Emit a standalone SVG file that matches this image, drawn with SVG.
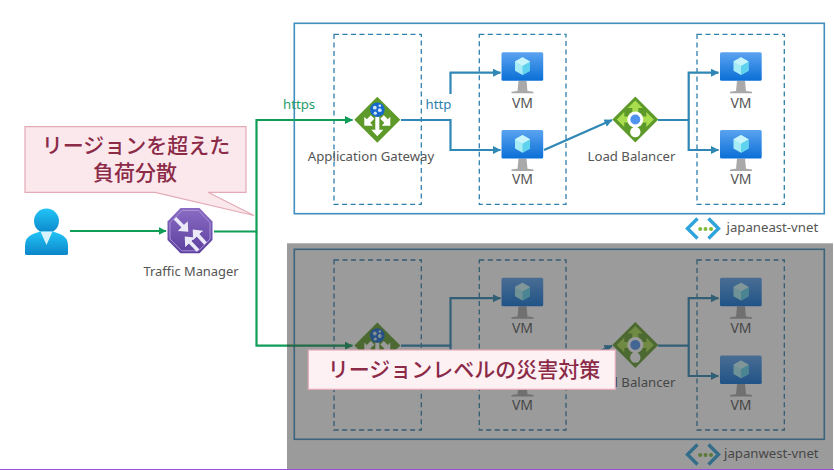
<svg xmlns="http://www.w3.org/2000/svg" width="834" height="470" viewBox="0 0 834 470">
<style>
text{font-family:"Noto Sans","Open Sans","Liberation Sans",sans-serif;fill:#555}
.m{text-anchor:middle}
.vnet{fill:none;stroke:#3f8fc0;stroke-width:1.6}
.sub{fill:none;stroke:#2f7fae;stroke-width:1.3;stroke-dasharray:5 3.5}
.lbl{font-size:13.2px}
.vm{font-size:14px}
.g{fill:none;stroke:#0f9d58;stroke-width:2.2}
.b{fill:none;stroke:#2e87b5;stroke-width:2.2}
.jp{font-family:"Noto Sans CJK JP","Noto Sans",sans-serif;font-weight:500;font-size:21px;fill:#8c2b48;text-anchor:middle}
.call{fill:#fbe8ec;stroke:#e3aab7;stroke-width:1.2}
.ta{fill:none;stroke:#ebe8f7;stroke-width:3.6}
</style>
<defs>
<linearGradient id="vmg" x1="0" y1="0" x2="0" y2="1"><stop offset="0" stop-color="#5ba3f0"/><stop offset="1" stop-color="#0a6fd6"/></linearGradient>
<linearGradient id="usr" x1="0" y1="0" x2="0" y2="1"><stop offset="0" stop-color="#22c4f7"/><stop offset="1" stop-color="#0c86c9"/></linearGradient>
<linearGradient id="tm" x1="0" y1="0" x2="0" y2="1"><stop offset="0" stop-color="#8a6cc4"/><stop offset="1" stop-color="#5c3f9e"/></linearGradient>
<marker id="ag" markerUnits="userSpaceOnUse" markerWidth="9" markerHeight="9" refX="7.5" refY="4" orient="auto"><path d="M0 0L8 4L0 8Z" fill="#0f9d58"/></marker>
<marker id="ab" markerUnits="userSpaceOnUse" markerWidth="9" markerHeight="9" refX="7.5" refY="4" orient="auto"><path d="M0 0L8 4L0 8Z" fill="#2e87b5"/></marker>
<marker id="at" markerUnits="userSpaceOnUse" markerWidth="12" markerHeight="14" refX="4" refY="7" orient="auto"><path d="M0 0L8 7L0 14Z" fill="#ebe8f7"/></marker>
<g id="vmi">
<path d="M-11 39.500q11-2 22 0L11 41H-11ZM-4 28.400H4L5 39H-5Z" fill="#a9a9a9"/>
<rect x="-21" y="0" width="41.700" height="28.400" rx="1.500" fill="url(#vmg)"/>
<path d="M0 5L7.500 9.200V18.500L0 22.800L-7.500 18.500V9.200Z" fill="#a6ecf7"/>
<path d="M0 13.500L7.500 9.200V18.500L0 22.800Z" fill="#5fd3ee"/>
<path d="M0 13.500L-7.500 9.200L0 5L7.500 9.200Z" fill="#c8f4fb"/>
</g>
<g id="agi">
<path d="M0-23L23 0L0 23L-23 0Z" fill="#5e9a2a"/>
<path d="M-2-3H2V10H6L0 16.500L-6 10H-2Z" fill="#fff"/>
<path d="M-13 6V-3L-10.500-.5L-6.500-4.500L-3-1L-7 3L-4.500 6Z" fill="#fff"/>
<path d="M13 6V-3L10.500-.5L6.500-4.500L3-1L7 3L4.500 6Z" fill="#fff"/>
<circle cx="0" cy="-10" r="7.300" fill="#1668cc"/>
<circle cx="-2.500" cy="-12" r="1.900" fill="#cfe6fa"/><circle cx="2.500" cy="-9.500" r="1.900" fill="#cfe6fa"/><circle cx="-2" cy="-6.500" r="1.600" fill="#cfe6fa"/><circle cx="2.500" cy="-14" r="1.300" fill="#cfe6fa"/>
</g>
<g id="lbi">
<path d="M0-23L23 0L0 23L-23 0Z" fill="#5e9a2a"/>
<path d="M0-19L7.500-11.500H3V-6H-3V-11.500H-7.500ZM-18.500 0L-11-7.500V-3H-6V3H-11V7.500ZM18.500 0L11-7.500V-3H6V3H11V7.500Z" fill="#a9dc4e"/>
<circle cx="0" cy="12.500" r="5.200" fill="#fff"/><rect x="-2" y="5" width="4" height="5" fill="#fff"/>
<circle cx="0" cy="0" r="8" fill="#fff"/><circle cx="0" cy="0" r="5" fill="#4f93ee"/>
</g>
<g id="neti">
<path d="M12.500 0.500L2.500 10.500L12.500 20.500" fill="none" stroke="#2fa3dc" stroke-width="3.400"/>
<path d="M23.500 0.500L33.500 10.500L23.500 20.500" fill="none" stroke="#2fa3dc" stroke-width="3.400"/>
<circle cx="15.200" cy="11" r="2" fill="#7fba3a"/><circle cx="20.500" cy="11" r="2" fill="#7fba3a"/><circle cx="26" cy="11" r="2" fill="#7fba3a"/>
</g>
</defs>
<rect width="834" height="470" fill="#fff"/>

<g id="vnet-east">
<rect class="vnet" x="294.300" y="23.300" width="530" height="190.400"/>
<use href="#neti" x="685" y="218"/>
<text class="lbl" x="726.500" y="231.500">japaneast-vnet</text>
</g>
<g id="subnet-east-gw"><rect class="sub" x="334" y="34.300" width="87.300" height="170"/></g>
<g id="subnet-east-vm1"><rect class="sub" x="479.300" y="34.300" width="86.700" height="170"/></g>
<g id="subnet-east-vm2"><rect class="sub" x="697" y="34.300" width="87.300" height="170"/></g>

<g id="vnet-west">
<rect class="vnet" x="294.300" y="249.300" width="530" height="190"/>
<use href="#neti" x="685" y="444"/>
<text class="lbl" x="724" y="457.500">japanwest-vnet</text>
</g>
<g id="subnet-west-gw"><rect class="sub" x="334" y="260" width="87.300" height="170"/></g>
<g id="subnet-west-vm1"><rect class="sub" x="479.300" y="260" width="86.700" height="170"/></g>
<g id="subnet-west-vm2"><rect class="sub" x="697" y="260" width="87.300" height="170"/></g>

<g id="connectors">
<path class="g" d="M70 231H166" marker-end="url(#ag)"/>
<path class="g" d="M214 231.500H256.500V120H352.500" marker-end="url(#ag)"/>
<path class="g" d="M256.500 231.500V345.700H352.500" marker-end="url(#ag)"/>
<path class="b" d="M401 120H450.500V150H500.500" marker-end="url(#ab)"/>
<path class="b" d="M450.500 94V72.700H500.500" marker-end="url(#ab)"/>
<path class="b" d="M544 150L612 120" marker-end="url(#ab)"/>
<path class="b" d="M658 120H688.700V150H718.500" marker-end="url(#ab)"/>
<path class="b" d="M688.700 120V72.700H718.500" marker-end="url(#ab)"/>
<path class="b" d="M401 345.700H450.500V376H500.500" marker-end="url(#ab)"/>
<path class="b" d="M450.500 345.700V298.200H500.500" marker-end="url(#ab)"/>
<path class="b" d="M544 376L612 345.700" marker-end="url(#ab)"/>
<path class="b" d="M658 345.700H688.700V376H718.500" marker-end="url(#ab)"/>
<path class="b" d="M688.700 345.700V298.200H718.500" marker-end="url(#ab)"/>
</g>

<g id="user">
<circle cx="46.500" cy="221" r="12.500" fill="url(#usr)"/>
<path d="M25 254V246Q25 237 33 234L40 231.500H53L60 234Q68 237 68 246V254Q68 255 66 255H27Q25 255 25 254Z" fill="url(#usr)"/>
<path d="M40.500 231.500H52.500L46.500 245Z" fill="#d8f3fb"/>
</g>
<g id="traffic-manager">
<path d="M180.500 208H199.500L212.500 221.500V240L199.500 253.300H180.500L167.500 240V221.500Z" fill="url(#tm)"/>
<path d="M182 210.500H198.500L210 222.500V239L198.500 250.800H181.500L170 239V222.500Z" fill="none" stroke="#a893d6" stroke-width="1"/>
<path class="ta" d="M175 218.300L185.500 229" marker-end="url(#at)"/>
<path class="ta" d="M205.500 243.500L195.500 232.500" marker-end="url(#at)"/>
<path class="ta" d="M198 250.500L187.500 239.500" marker-end="url(#at)"/>
<text class="m" x="191" y="275.700" style="font-size:12.900px">Traffic Manager</text>
</g>

<g id="ag-east"><use href="#agi" x="377.300" y="119.700"/><text class="m lbl" x="371" y="160.700">Application Gateway</text></g>
<g id="vm-e1"><use href="#vmi" x="522.500" y="52.300"/><text class="m vm" x="522.500" y="107.700">VM</text></g>
<g id="vm-e2"><use href="#vmi" x="522.500" y="130"/><text class="m vm" x="522.500" y="184.300">VM</text></g>
<g id="lb-east"><use href="#lbi" x="635.300" y="119.500"/><text class="m lbl" x="631.500" y="160.700">Load Balancer</text></g>
<g id="vm-e3"><use href="#vmi" x="741" y="52.300"/><text class="m vm" x="741" y="107.700">VM</text></g>
<g id="vm-e4"><use href="#vmi" x="741" y="130"/><text class="m vm" x="741" y="184.300">VM</text></g>

<g id="ag-west"><use href="#agi" x="377.300" y="345.500"/></g>
<g id="vm-w1"><use href="#vmi" x="522.500" y="277.800"/><text class="m vm" x="522.500" y="333.200">VM</text></g>
<g id="vm-w2"><use href="#vmi" x="522.500" y="355.500"/><text class="m vm" x="522.500" y="409.800">VM</text></g>
<g id="lb-west"><use href="#lbi" x="635.300" y="345"/><text class="m lbl" x="631.500" y="386.500">Load Balancer</text></g>
<g id="vm-w3"><use href="#vmi" x="741" y="277.800"/><text class="m vm" x="741" y="333.200">VM</text></g>
<g id="vm-w4"><use href="#vmi" x="741" y="355.500"/><text class="m vm" x="741" y="409.800">VM</text></g>

<g id="labels">
<text class="lbl" x="283" y="109.300" style="fill:#1f9d6b">https</text>
<text class="lbl" x="425.500" y="109.300" style="fill:#2e7fb0">http</text>
</g>

<rect id="dim-overlay" x="287" y="243.300" width="546" height="226.700" fill="#373737" fill-opacity="0.5"/>
<rect id="bottom-line" x="0" y="469" width="834" height="1" fill="#9a4fd0"/>

<g id="callout-top">
<path class="call" d="M25 126.700H246V192.300H208L254 215.500L155 192.300H25Z"/>
<text class="jp"><tspan x="136" y="153">リージョンを超えた</tspan><tspan x="135" y="180">負荷分散</tspan></text>
</g>
<g id="callout-bottom">
<rect class="call" x="308.300" y="350" width="307" height="39.300" style="fill:#fdf1f4"/>
<text class="jp" x="464" y="377">リージョンレベルの災害対策</text>
</g>
</svg>
